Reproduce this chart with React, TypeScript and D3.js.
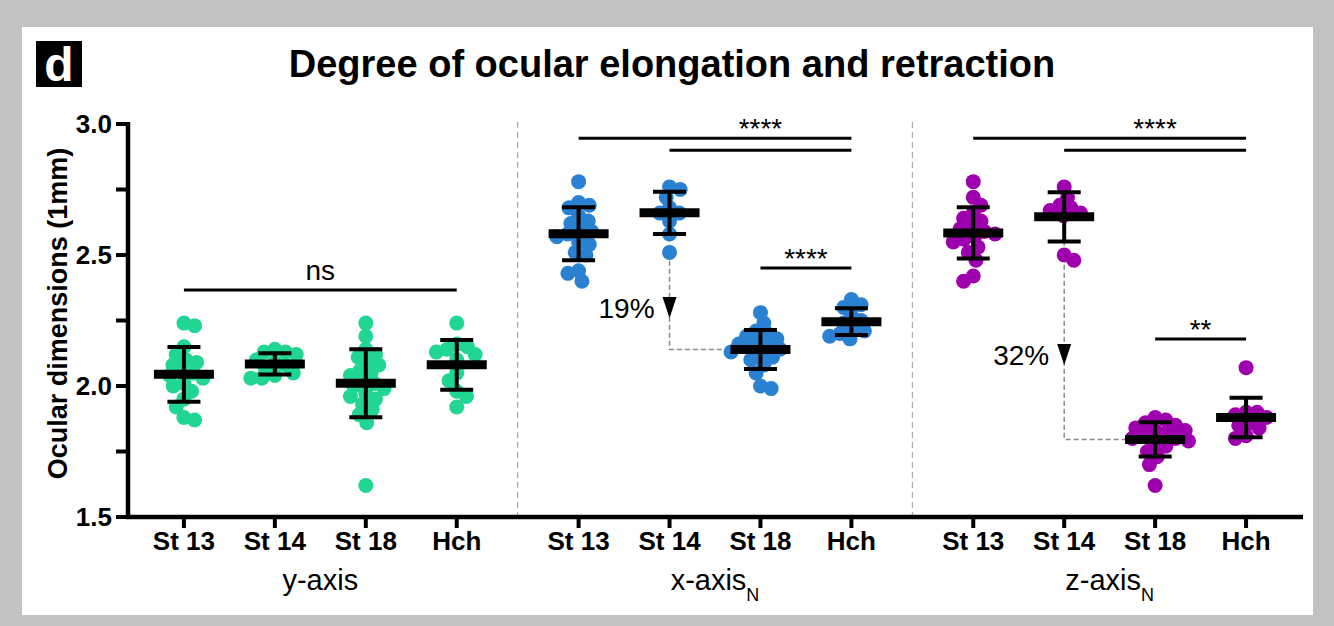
import * as d3 from 'd3'

const W = 1334
const H = 626
const FONT = "'Liberation Sans', Arial, Helvetica, sans-serif"

// categories
const STAGES = ['St 13', 'St 14', 'St 18', 'Hch']
const PANELS = ['y', 'x', 'z']
const PANEL_COLORS: Record<string, string> = { y: '#21d592', x: '#2b81d1', z: '#9f00ad' }

// ocular dimension (mm) per embryo
const yAxisSt13 = [2.24, 2.23, 2.15, 2.12, 2.10, 2.09, 2.08, 2.06, 2.05, 2.04, 2.03, 2.01, 2.00, 1.98, 1.95, 1.92, 1.88, 1.87]
const yAxisSt14 = [2.14, 2.13, 2.13, 2.12, 2.10, 2.09, 2.08, 2.07, 2.05, 2.04, 2.03, 2.03]
const yAxisSt18 = [2.24, 2.19, 2.14, 2.12, 2.11, 2.09, 2.08, 2.06, 2.05, 2.04, 2.02, 2.01, 2.00, 1.99, 1.97, 1.96, 1.95, 1.93, 1.91, 1.89, 1.86, 1.62]
const yAxisHch = [2.24, 2.16, 2.15, 2.14, 2.13, 2.12, 2.10, 2.05, 2.02, 1.98, 1.96, 1.92]

const xAxisSt13 = [2.78, 2.70, 2.69, 2.68, 2.65, 2.63, 2.62, 2.60, 2.59, 2.58, 2.57, 2.55, 2.54, 2.51, 2.50, 2.44, 2.43, 2.40]
const xAxisSt14 = [2.76, 2.75, 2.72, 2.68, 2.66, 2.66, 2.63, 2.58, 2.51]
const xAxisSt18 = [2.28, 2.24, 2.21, 2.20, 2.19, 2.18, 2.17, 2.16, 2.15, 2.15, 2.14, 2.13, 2.12, 2.11, 2.10, 2.08, 2.05, 2.00, 1.99]
const xAxisHch = [2.33, 2.31, 2.30, 2.27, 2.25, 2.24, 2.22, 2.21, 2.20, 2.19, 2.18]

const zAxisSt13 = [2.78, 2.72, 2.69, 2.66, 2.64, 2.63, 2.61, 2.60, 2.59, 2.58, 2.57, 2.56, 2.55, 2.53, 2.51, 2.48, 2.42, 2.40]
const zAxisSt14 = [2.76, 2.72, 2.69, 2.68, 2.67, 2.66, 2.65, 2.50, 2.48]
const zAxisSt18 = [1.88, 1.87, 1.86, 1.85, 1.84, 1.83, 1.83, 1.82, 1.81, 1.80, 1.80, 1.79, 1.78, 1.77, 1.75, 1.73, 1.70, 1.62]
const zAxisHch = [2.07, 1.90, 1.90, 1.89, 1.88, 1.86, 1.85, 1.84, 1.81, 1.80]

const Y_TICKS = [1.5, 2.0, 2.5, 3.0]
const Y_MINOR = [1.75, 2.25, 2.75]

// significance brackets
const BRACKET_PANEL = ['y', 'x', 'x', 'x', 'z', 'z', 'z']
const BRACKET_FROM = ['St 13', 'St 13', 'St 14', 'St 18', 'St 13', 'St 14', 'St 18']
const BRACKET_TO = ['Hch', 'Hch', 'Hch', 'Hch', 'Hch', 'Hch', 'Hch']
const BRACKET_LEVEL = [2.366, 2.946, 2.90, 2.45, 2.946, 2.90, 2.179]
const BRACKET_LABEL = ['ns', '', '****', '****', '', '****', '**']
const BRACKET_LABEL_LEVEL = [2.366, 0, 2.946, 2.45, 0, 2.946, 2.179]

// St 14 -> St 18 drop annotations
const DROP_PANEL = ['x', 'z']
const DROP_LABEL = ['19%', '32%']
const DROP_TIP = [2.26, 2.08]

const groups: Record<string, number[][]> = {
  y: [yAxisSt13, yAxisSt14, yAxisSt18, yAxisHch],
  x: [xAxisSt13, xAxisSt14, xAxisSt18, xAxisHch],
  z: [zAxisSt13, zAxisSt14, zAxisSt18, zAxisHch],
}

// simple beeswarm: each dot goes as close to the centre as it can without overlapping
function swarm(values: number[], yPos: (v: number) => number, minD: number) {
  const order = values.map((_, i) => i).sort((a, b) => values[b] - values[a])
  const placed: { x: number; y: number }[] = []
  const out: number[] = new Array(values.length).fill(0)
  let side = 1
  for (const i of order) {
    const py = yPos(values[i])
    const blocks: [number, number][] = []
    placed.forEach(p => {
      const dy = Math.abs(p.y - py)
      if (dy < minD) {
        const h = Math.sqrt(minD * minD - dy * dy)
        blocks.push([p.x - h, p.x + h])
      }
    })
    const ok = (x: number) => blocks.every(([a, b]) => x <= a + 1e-6 || x >= b - 1e-6)
    const cands = [0, ...blocks.flat()].filter(ok)
    cands.sort((a, b) => Math.abs(a) - Math.abs(b) || (Math.sign(a) === side ? -1 : 1))
    const x = cands[0]
    if (x !== 0) side = -Math.sign(x)
    placed.push({ x, y: py })
    out[i] = x
  }
  return out
}

export default function App() {
  const y = d3.scaleLinear().domain([1.5, 3.0]).range([517, 124])
  const panelX = d3.scaleBand().domain(PANELS).range([123, 1307])
  const stageX = d3.scalePoint().domain(STAGES).range([0, panelX.bandwidth()]).padding(0.67)
  const xOf = (p: string, s: string) => (panelX(p) ?? 0) + (stageX(s) ?? 0)

  const R = 7.5
  const stats = PANELS.flatMap(p =>
    STAGES.map((s, i) => {
      const vals = groups[p][i]
      return {
        p, s, vals,
        mean: d3.mean(vals) ?? 0,
        sd: d3.deviation(vals) ?? 0,
        offsets: swarm(vals, y, 11),
      }
    })
  )
  const meanOf = (p: string, s: string) => stats.find(d => d.p === p && d.s === s)!.mean

  const axisLeft = 128
  const axisRight = 1303
  const axisY = y(1.5)

  return (
    <svg width={W} height={H} style={{ position: 'absolute', left: 0, top: 0 }} fontFamily={FONT}>
      <rect width={W} height={H} fill="#c2c1c4" />
      <rect x={22} y={27} width={1291} height={588} fill="#ffffff" />

      {/* panel label + title */}
      <rect x={36} y={41} width={46} height={46} fill="#000" />
      <text x={59} y={81} textAnchor="middle" fill="#fff" fontSize={48} fontWeight={700}>d</text>
      <text x={672} y={77} textAnchor="middle" fontSize={38} fontWeight={700}>
        Degree of ocular elongation and retraction
      </text>

      {/* panel dividers */}
      {PANELS.slice(1).map(p => (
        <line key={p} x1={panelX(p)} x2={panelX(p)} y1={122} y2={axisY}
          stroke="#9a9a9a" strokeWidth={1} strokeDasharray="6,4" />
      ))}

      {/* dashed drop guides (behind dots) */}
      {DROP_PANEL.map(p => {
        const x14 = xOf(p, 'St 14')
        const x18 = xOf(p, 'St 18')
        const y14 = y(meanOf(p, 'St 14'))
        const y18 = y(meanOf(p, 'St 18'))
        return (
          <path key={p} d={`M${x14},${y14}V${y18}H${x18}`} fill="none"
            stroke="#8a8a8a" strokeWidth={1.5} strokeDasharray="5,3" />
        )
      })}

      {/* dots */}
      {stats.map(g => (
        <g key={g.p + g.s}>
          {g.vals.map((v, i) => (
            <circle key={i} cx={xOf(g.p, g.s) + g.offsets[i]} cy={y(v)} r={R} fill={PANEL_COLORS[g.p]} />
          ))}
        </g>
      ))}

      {/* mean +- SD */}
      {stats.map(g => {
        const cx = xOf(g.p, g.s)
        const top = y(g.mean + g.sd)
        const bot = y(g.mean - g.sd)
        return (
          <g key={'e' + g.p + g.s} stroke="#000">
            <line x1={cx} x2={cx} y1={top} y2={bot} strokeWidth={4} />
            <line x1={cx - 16.5} x2={cx + 16.5} y1={top} y2={top} strokeWidth={4} />
            <line x1={cx - 16.5} x2={cx + 16.5} y1={bot} y2={bot} strokeWidth={4} />
            <line x1={cx - 30} x2={cx + 30} y1={y(g.mean)} y2={y(g.mean)} strokeWidth={9} />
          </g>
        )
      })}

      {/* drop arrows */}
      {DROP_PANEL.map((p, i) => {
        const x14 = xOf(p, 'St 14')
        const tip = y(DROP_TIP[i])
        return (
          <g key={'a' + p}>
            <path d={`M${x14 - 7},${tip - 21}L${x14 + 7},${tip - 21}L${x14},${tip}Z`} fill="#000" />
            <text x={x14 - 15} y={tip} textAnchor="end" fontSize={28}>{DROP_LABEL[i]}</text>
          </g>
        )
      })}

      {/* y axis */}
      <line x1={axisLeft} x2={axisLeft} y1={y(3.0) - 2} y2={axisY} stroke="#000" strokeWidth={4.5} />
      {[...Y_TICKS, ...Y_MINOR].map(t => (
        <line key={t} x1={116} x2={axisLeft} y1={y(t)} y2={y(t)} stroke="#000" strokeWidth={4} />
      ))}
      {Y_TICKS.map(t => (
        <text key={t} x={112} y={y(t)} dy="0.36em" textAnchor="end" fontSize={26} fontWeight={700}>
          {t.toFixed(1)}
        </text>
      ))}
      <text transform={`translate(67,${(y(3.0) + axisY) / 2 - 7}) rotate(-90)`} textAnchor="middle"
        fontSize={27} fontWeight={700}>
        Ocular dimensions (1mm)
      </text>

      {/* x axis */}
      <line x1={axisLeft - 2} x2={axisRight} y1={axisY} y2={axisY} stroke="#000" strokeWidth={4.5} />
      {PANELS.map(p => (
        <g key={'x' + p}>
          {STAGES.map(s => (
            <g key={s}>
              <line x1={xOf(p, s)} x2={xOf(p, s)} y1={axisY} y2={axisY + 11} stroke="#000" strokeWidth={4} />
              <text x={xOf(p, s)} y={550} textAnchor="middle" fontSize={26} fontWeight={700}>{s}</text>
            </g>
          ))}
          <text x={(xOf(p, 'St 13') + xOf(p, 'Hch')) / 2} y={590} textAnchor="middle" fontSize={29}>
            {p}-axis
            {p !== 'y' && <tspan fontSize={18} dy={11}>N</tspan>}
          </text>
        </g>
      ))}

      {/* significance brackets */}
      {BRACKET_PANEL.map((p, i) => {
        const x1 = xOf(p, BRACKET_FROM[i])
        const x2 = xOf(p, BRACKET_TO[i])
        const ly = y(BRACKET_LEVEL[i])
        const label = BRACKET_LABEL[i]
        return (
          <g key={'b' + i}>
            <line x1={x1} x2={x2} y1={ly} y2={ly} stroke="#000" strokeWidth={3} />
            {label && (
              <text x={(x1 + x2) / 2} y={y(BRACKET_LABEL_LEVEL[i]) - (label === 'ns' ? 10 : 0)}
                textAnchor="middle" fontSize={28}>
                {label}
              </text>
            )}
          </g>
        )
      })}
    </svg>
  )
}
